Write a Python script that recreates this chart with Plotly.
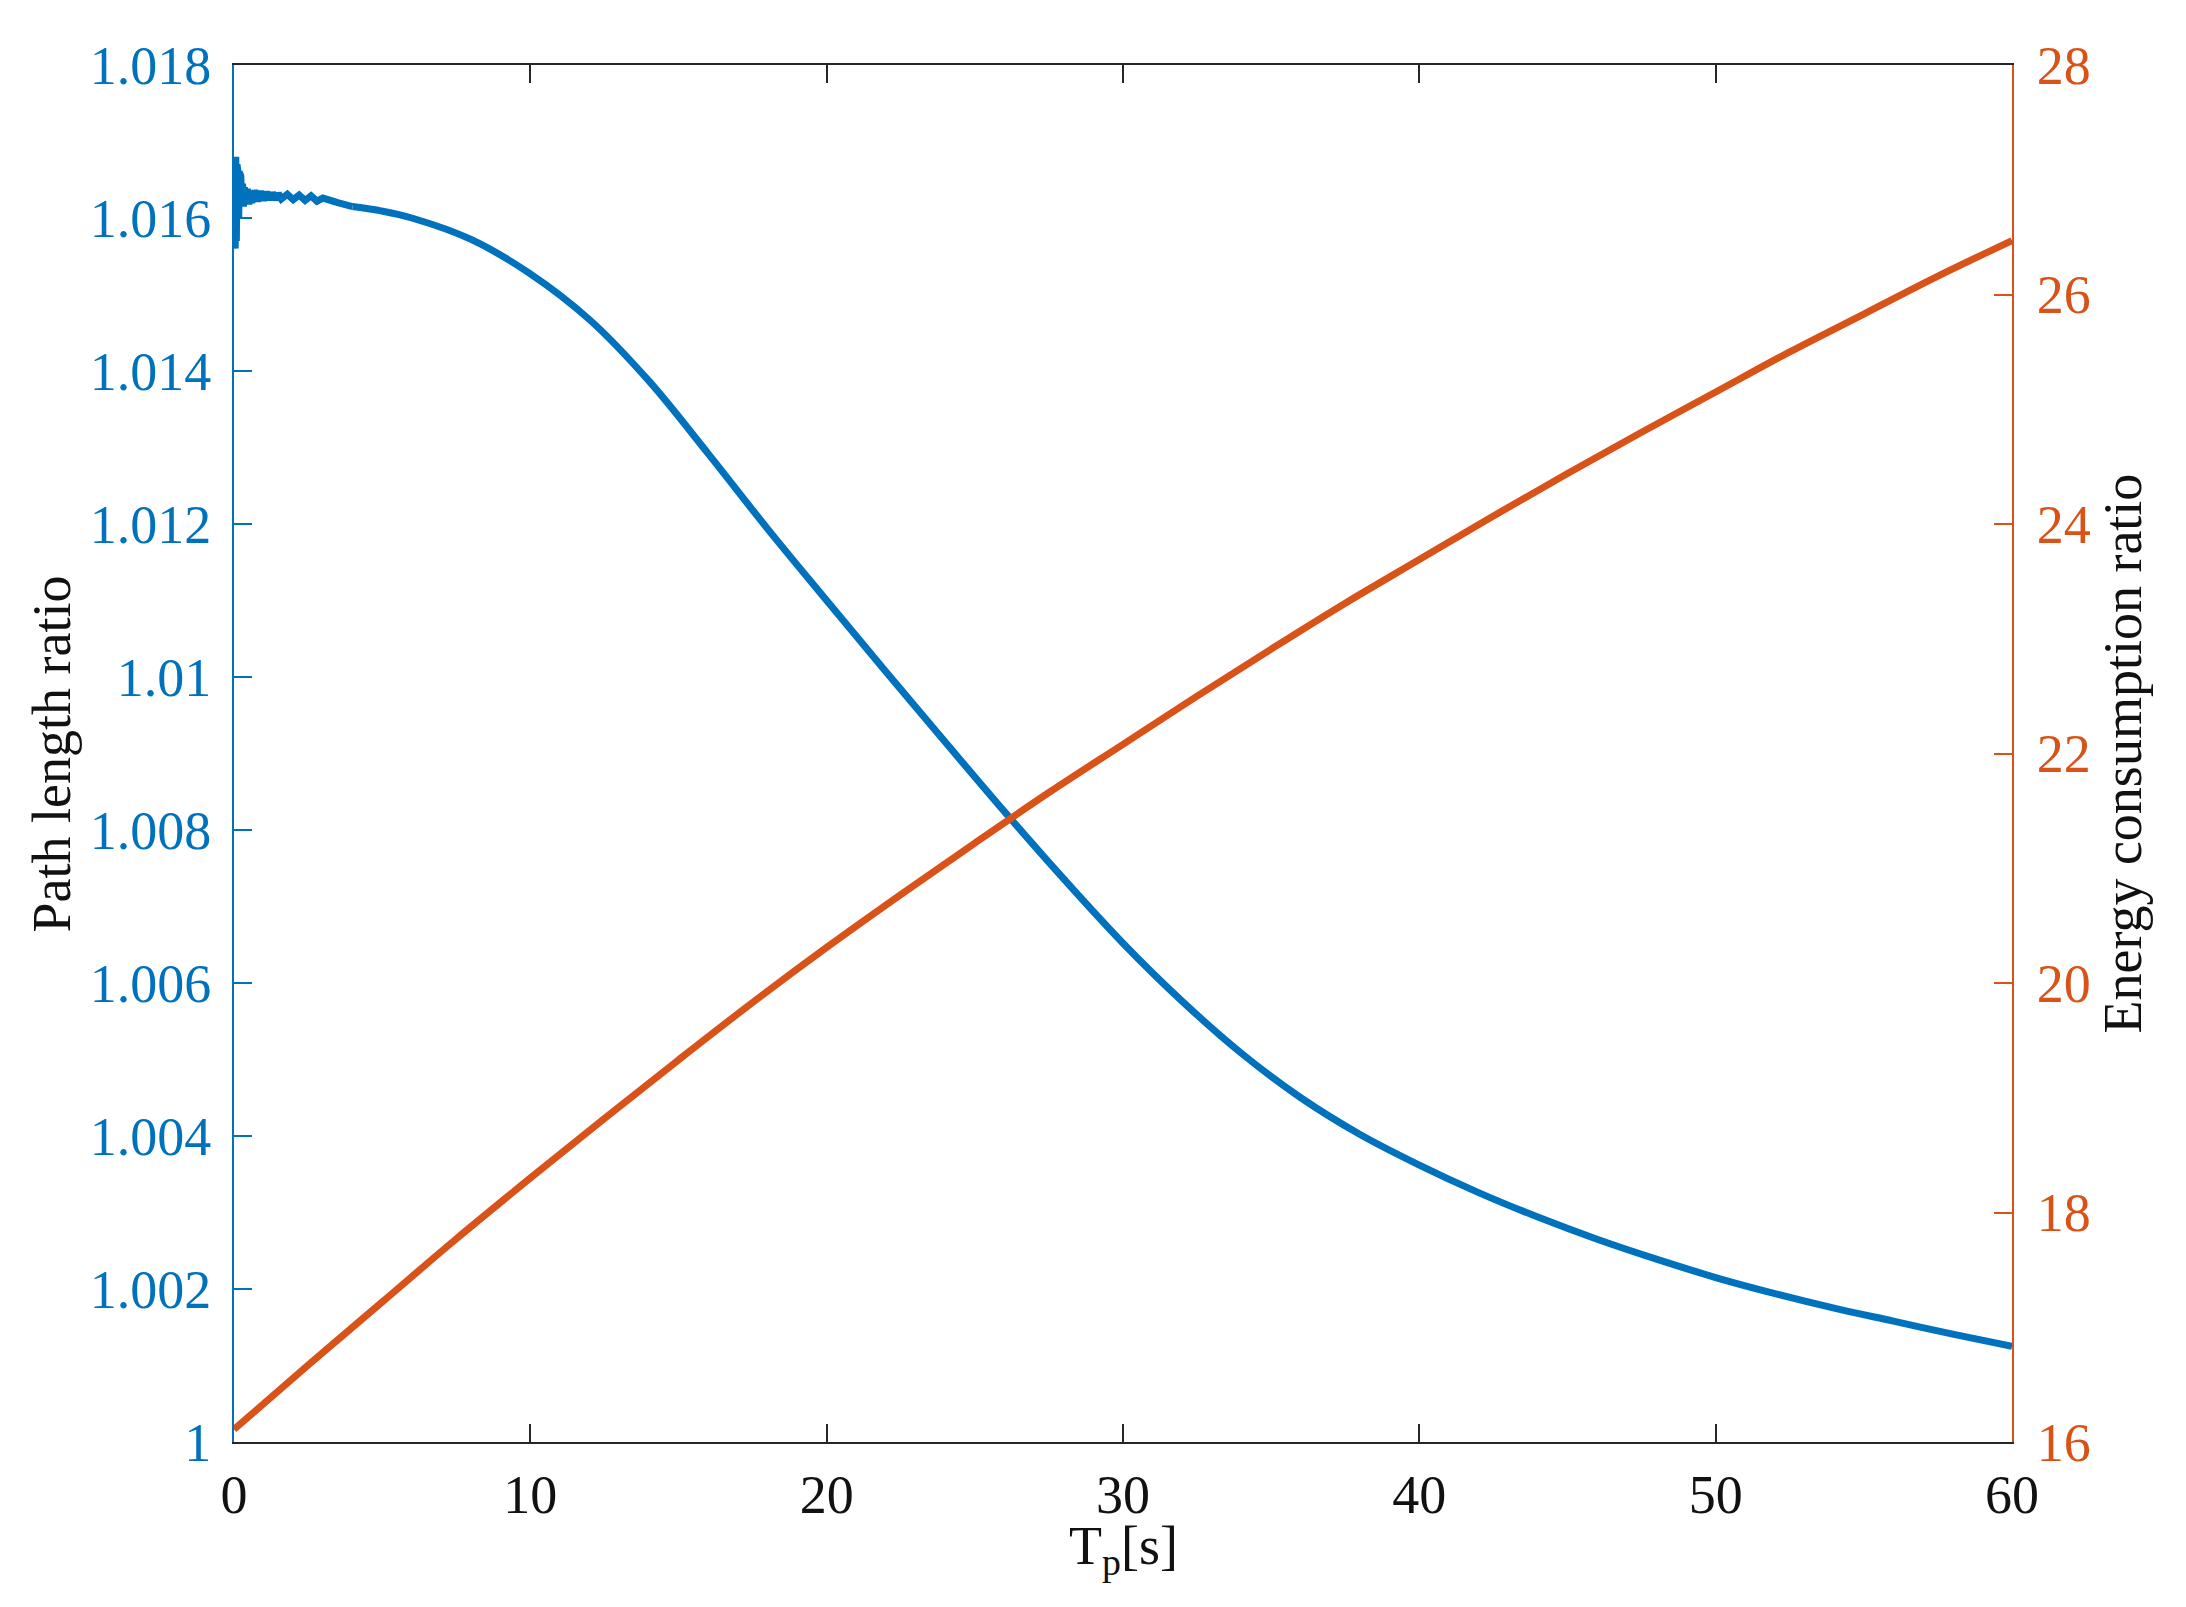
import plotly.graph_objects as go

# ---- data ----
t_path = [0, 0.02, 0.04, 0.06, 0.08, 0.10, 0.12, 0.14, 0.16, 0.18, 0.20, 0.23, 0.26, 0.29,
          0.32, 0.35, 0.4, 0.45, 0.5, 0.55, 0.6, 0.7, 0.8, 0.9, 1.0, 1.1, 1.2, 1.3, 1.4, 1.5,
          1.6, 1.8, 2.0, 2.2, 2.4, 2.6, 2.8, 3.0, 3.5, 4.0,
          5, 6, 8, 10, 12, 14, 16, 18, 20, 22, 24, 26, 28, 30, 32, 34, 36, 38, 40,
          42, 44, 46, 48, 50, 52, 54, 56, 58, 60]
path_ratio = [1.0158, 1.0167, 1.0156, 1.0168, 1.0157, 1.0167, 1.0158, 1.0166, 1.0160, 1.0166,
              1.0161, 1.01655, 1.0162, 1.01645, 1.01615, 1.0164, 1.0162, 1.01638, 1.01618,
              1.01635, 1.01620, 1.01636, 1.01622, 1.01635, 1.01623, 1.01634, 1.01624, 1.01633,
              1.01624, 1.01632, 1.01625, 1.01631, 1.01624, 1.01630, 1.01623, 1.01629, 1.01622,
              1.01626, 1.01620, 1.01615,
              1.01609, 1.01600, 1.01572, 1.01527, 1.01467, 1.01387, 1.01292, 1.01194, 1.01100,
              1.01007, 1.00915, 1.00824, 1.00736, 1.00652, 1.00576, 1.00508, 1.00450, 1.00402,
              1.00362, 1.00326, 1.00294, 1.00265, 1.00239, 1.00215, 1.00194, 1.00175, 1.00158,
              1.00141, 1.00125]

t_energy = [0, 2.5, 5, 7.5, 10, 12.5, 15, 17.5, 20, 22.5, 25, 27.5, 30, 32.5, 35, 37.5, 40,
            42.5, 45, 47.5, 50, 52.5, 55, 57.5, 60]
energy_ratio = [16.11, 16.67, 17.22, 17.77, 18.30, 18.82, 19.33, 19.83, 20.31, 20.77, 21.22,
                21.66, 22.08, 22.50, 22.91, 23.31, 23.69, 24.07, 24.44, 24.80, 25.15, 25.50,
                25.83, 26.16, 26.47]

x_ticks = [0, 10, 20, 30, 40, 50, 60]
y1_ticks = [1.000, 1.002, 1.004, 1.006, 1.008, 1.010, 1.012, 1.014, 1.016, 1.018]
y1_labels = ["1", "1.002", "1.004", "1.006", "1.008", "1.01", "1.012", "1.014", "1.016", "1.018"]
y2_ticks = [16, 18, 20, 22, 24, 26, 28]

BLUE = "#0072BD"
ORANGE = "#D95319"
AX = "#262626"
TXT = "#111111"
FONT = "Liberation Serif"
FS = 54

# split the noisy start (drawn straight) from the smooth part (drawn as spline)
split = t_path.index(4.0)

fig = go.Figure()
fig.add_trace(go.Scatter(x=t_path[:split + 1], y=path_ratio[:split + 1], mode="lines",
                         line=dict(color=BLUE, width=7), yaxis="y", showlegend=False))
fig.add_trace(go.Scatter(x=t_path[split:], y=path_ratio[split:], mode="lines",
                         line=dict(color=BLUE, width=7, shape="spline", smoothing=1.0),
                         yaxis="y", showlegend=False))
fig.add_trace(go.Scatter(x=t_energy, y=energy_ratio, mode="lines",
                         line=dict(color=ORANGE, width=7, shape="spline", smoothing=1.0),
                         yaxis="y2", showlegend=False))

fig.update_layout(
    width=2170, height=1591,
    margin=dict(l=226, r=166, t=57, b=157),
    plot_bgcolor="white", paper_bgcolor="white",
    font=dict(family=FONT, size=FS, color=TXT),
    xaxis=dict(range=[0, 60], tickvals=x_ticks, ticks="inside", ticklen=18, tickwidth=2,
               tickcolor=AX, showline=True, linecolor=AX, linewidth=2, mirror="ticks",
               showgrid=False, zeroline=False, automargin=False,
               tickfont=dict(size=FS, color=TXT), ticklabelstandoff=4),
    yaxis=dict(range=[1.0, 1.018], tickvals=y1_ticks, ticktext=y1_labels, ticks="inside",
               ticklen=18, tickwidth=2, tickcolor=BLUE, showline=True, linecolor=BLUE,
               linewidth=2, showgrid=False, zeroline=False, automargin=False,
               tickfont=dict(size=FS, color=BLUE), ticklabelstandoff=10),
    yaxis2=dict(range=[16, 28], tickvals=y2_ticks, overlaying="y", side="right", ticks="inside",
                ticklen=18, tickwidth=2, tickcolor=ORANGE, showline=True, linecolor=ORANGE,
                linewidth=2, showgrid=False, zeroline=False, automargin=False,
                tickfont=dict(size=FS, color=ORANGE), ticklabelstandoff=12),
    annotations=[
        dict(text="Path length ratio", xref="paper", yref="paper", x=-0.1024, y=0.5,
             textangle=-90, showarrow=False, xanchor="center", yanchor="middle",
             font=dict(size=FS, color=TXT, family=FONT)),
        dict(text="Energy consumption ratio", xref="paper", yref="paper", x=1.0619, y=0.5,
             textangle=-90, showarrow=False, xanchor="center", yanchor="middle",
             font=dict(size=FS, color=TXT, family=FONT)),
        dict(text="T<sub>p</sub>[s]", xref="paper", yref="paper", x=0.5, y=-0.0784,
             showarrow=False, xanchor="center", yanchor="middle",
             font=dict(size=FS, color=TXT, family=FONT)),
    ],
)

fig.write_html("out.html")
